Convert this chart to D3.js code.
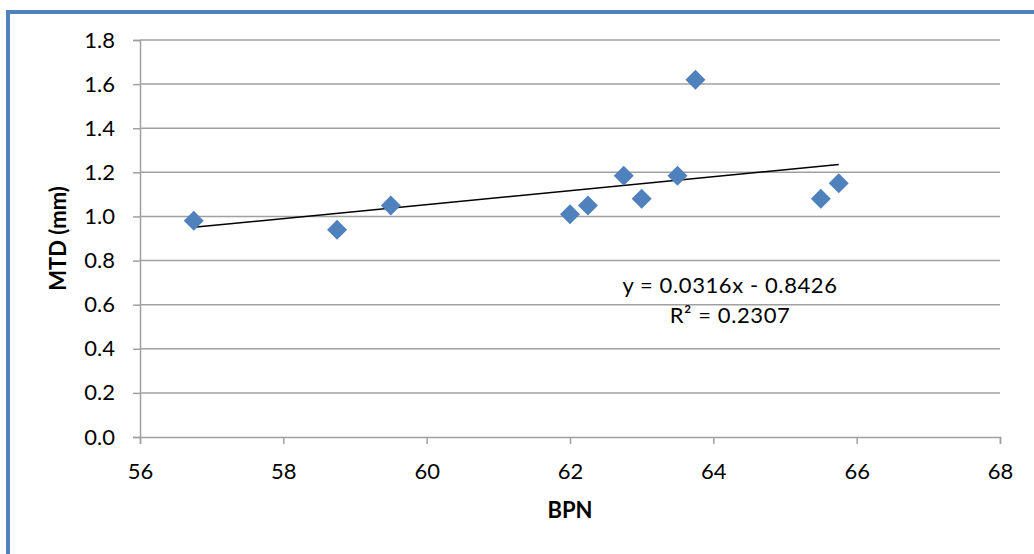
<!DOCTYPE html>
<html>
<head>
<meta charset="utf-8">
<script src="https://cdn.jsdelivr.net/npm/d3@7"></script>
<style>
  body { margin: 0; background: #fff; }
  svg text { font-family: Lato, "Open Sans", sans-serif; fill: #000; }
</style>
</head>
<body>
<div id="chart"></div>
<script>
// data
var bpn = [56.75, 58.75, 59.5, 62, 62.25, 62.75, 63, 63.5, 63.75, 65.5, 65.75];
var mtd = [0.98, 0.94, 1.05, 1.01, 1.05, 1.185, 1.08, 1.185, 1.62, 1.08, 1.15];
var xTicks = [56, 58, 60, 62, 64, 66, 68];
var yTicks = [0, 0.2, 0.4, 0.6, 0.8, 1.0, 1.2, 1.4, 1.6, 1.8];
var slope = 0.0316, intercept = -0.8426, r2 = 0.2307;

var width = 1034, height = 554;

var svg = d3.select("#chart").append("svg")
    .attr("width", width)
    .attr("height", height);

// blue outer frame (only left and top edges show)
svg.append("line").attr("x1", 8).attr("x2", 8).attr("y1", 10).attr("y2", height)
    .attr("stroke", "#4F81BD").attr("stroke-width", 4);
svg.append("line").attr("x1", 6).attr("x2", width).attr("y1", 12).attr("y2", 12)
    .attr("stroke", "#4F81BD").attr("stroke-width", 4);

var x = d3.scaleLinear().domain([56, 68]).range([140, 1000]);
var y = d3.scaleLinear().domain([0, 1.8]).range([437, 40]);

// gridlines
svg.append("g").selectAll("line")
  .data(yTicks.slice(1))
  .enter().append("line")
    .attr("x1", x(56)).attr("x2", x(68))
    .attr("y1", function(d) { return y(d); })
    .attr("y2", function(d) { return y(d); })
    .attr("stroke", "#a0a0a0").attr("stroke-width", 1.5);

// y axis
var yAxis = svg.append("g")
    .attr("transform", "translate(" + x(56) + ",0)")
    .call(d3.axisLeft(y).tickValues(yTicks).tickSizeOuter(0).tickSize(7).tickPadding(18)
      .tickFormat(d3.format(".1f")));

// x axis
var xAxis = svg.append("g")
    .attr("transform", "translate(0," + y(0) + ")")
    .call(d3.axisBottom(x).tickValues(xTicks).tickSizeOuter(0).tickSize(7).tickPadding(19));

[yAxis, xAxis].forEach(function(a) {
  a.select(".domain").attr("stroke", "#a0a0a0").attr("stroke-width", 1.5);
  a.selectAll(".tick line").attr("stroke", "#a0a0a0").attr("stroke-width", 1.5);
  a.selectAll("text").style("font-size", "22px").attr("fill", "#000");
});

// trendline over the data range
var xr = d3.extent(bpn);
svg.append("line")
    .attr("x1", x(xr[0])).attr("y1", y(slope * xr[0] + intercept))
    .attr("x2", x(xr[1])).attr("y2", y(slope * xr[1] + intercept))
    .attr("stroke", "#000").attr("stroke-width", 1.5);

// diamonds
svg.append("g").selectAll("path")
  .data(bpn)
  .enter().append("path")
    .attr("d", "M0,-10L10,0L0,10L-10,0Z")
    .attr("transform", function(d, i) { return "translate(" + x(d) + "," + y(mtd[i]) + ")"; })
    .attr("fill", "#4F81BD");

// equation label
svg.append("text")
    .attr("x", 730).attr("y", 293)
    .attr("text-anchor", "middle")
    .style("font-size", "22px").style("letter-spacing", "0.6px")
    .text("y = " + slope.toFixed(4) + "x - " + Math.abs(intercept).toFixed(4));
svg.append("text")
    .attr("x", 730).attr("y", 323)
    .attr("text-anchor", "middle")
    .style("font-size", "22px").style("letter-spacing", "0.6px")
    .text("R\u00B2 = " + r2.toFixed(4));

// axis titles
svg.append("text")
    .attr("transform", "translate(66," + y(0.9) + ") rotate(-90)")
    .attr("text-anchor", "middle")
    .style("font-size", "22px").style("font-weight", "bold")
    .text("MTD (mm)");
svg.append("text")
    .attr("x", 570).attr("y", 518)
    .attr("text-anchor", "middle")
    .style("font-size", "22px").style("font-weight", "bold")
    .text("BPN");
</script>
</body>
</html>
